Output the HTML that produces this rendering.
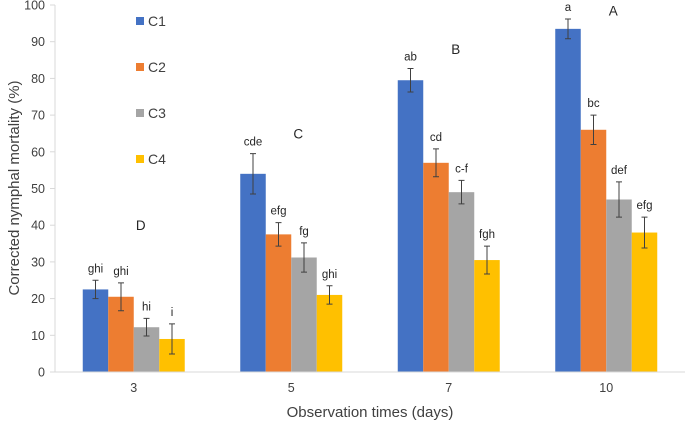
<!DOCTYPE html>
<html><head><meta charset="utf-8"><style>
body{margin:0;background:#fff;}
svg{font-family:"Liberation Sans",sans-serif;}
</style></head><body>
<svg id="chart" width="685" height="423"></svg>
<script>
const categories=["3","5","7","10"];
const seriesNames=["C1","C2","C3","C4"];
const c1=[22.5,54,79.5,93.5];
const c2=[20.5,37.5,57,66];
const c3=[12.2,31.2,49,47];
const c4=[9,21,30.5,38];
const e1=[2.5,5.5,3.2,2.7];
const e2=[3.8,3.2,3.8,4];
const e3=[2.4,4,3.2,4.8];
const e4=[4.1,2.5,3.8,4.2];
const l1=["ghi","cde","ab","a"];
const l2=["ghi","efg","cd","bc"];
const l3=["hi","fg","c-f","def"];
const l4=["i","ghi","fgh","efg"];
const groupLetters=["D","C","B","A"];
const groupLetterVals=[40,65,88,98.5];
const yTicks=[0,10,20,30,40,50,60,70,80,90,100];
const colors=["#4472C4","#ED7D31","#A5A5A5","#FFC000"];
const series=[c1,c2,c3,c4],errs=[e1,e2,e3,e4],labs=[l1,l2,l3,l4];
const NS="http://www.w3.org/2000/svg";
const svg=document.getElementById('chart');
const X0=55,X1=685,Y0=372,Y1=5;
const y=v=>Y0-(v/100)*(Y0-Y1);
const band=(X1-X0)/categories.length;
const cx=i=>X0+band*(i+0.5);
const bw=25.5;
function mk(t,a,txt){const e=document.createElementNS(NS,t);for(const k in a)e.setAttribute(k,a[k]);if(txt!==undefined)e.textContent=txt;svg.appendChild(e);return e;}
let ax=mk('line',{x1:X0,y1:Y1,x2:X0,y2:Y0,stroke:'#d9d9d9'});


yTicks.forEach(t=>{
 let tk=mk('line',{x1:X0-5,x2:X0,y1:y(t),y2:y(t),stroke:'#d9d9d9'});
 
 
 let tl=mk('text',{x:X0-10,y:y(t)+4.5,'text-anchor':'end','font-size':12.5,fill:'#404040'},t);
 
 
});
categories.forEach((c,i)=>{
 series.forEach((s,j)=>{
  const bx=cx(i)-2*bw+j*bw;
  let r=mk('rect',{x:bx,y:y(s[i]),width:bw,height:Y0-y(s[i]),fill:colors[j]});
  
  
  const m=bx+bw/2,hi=y(s[i]+errs[j][i]),lo=y(s[i]-errs[j][i]);
  let eb=mk('path',{d:`M${m},${hi}V${lo}M${m-3},${hi}H${m+3}M${m-3},${lo}H${m+3}`,stroke:'#404040','stroke-width':1,fill:'none'});
  
  
  let lt=mk('text',{x:m,y:hi-8,'text-anchor':'middle','font-size':11.5,fill:'#262626'},labs[j][i]);
  
  
 });
 let xl=mk('text',{x:cx(i),y:392,'text-anchor':'middle','font-size':12.5,fill:'#404040'},c);
 
 
 let gl=mk('text',{x:cx(i)+7,y:y(groupLetterVals[i])+5,'text-anchor':'middle','font-size':13.5,fill:'#262626'},groupLetters[i]);
 
 
});
let xa=mk('line',{x1:X0,y1:Y0,x2:X1,y2:Y0,stroke:'#d9d9d9'});


seriesNames.forEach((n,j)=>{
 const ly=21+j*46;
 let sq=mk('rect',{x:136,y:ly-4,width:8,height:8,fill:colors[j]});
 
 
 let lt=mk('text',{x:148,y:ly+5,'font-size':14,fill:'#404040'},n);
 
 
});
let yt=mk('text',{transform:'translate(19,188) rotate(-90)','text-anchor':'middle','font-size':15,fill:'#404040'},'Corrected nymphal mortality (%)');


let xt=mk('text',{x:370,y:417,'text-anchor':'middle','font-size':15,fill:'#404040'},'Observation times (days)');


</script>
</body></html>
